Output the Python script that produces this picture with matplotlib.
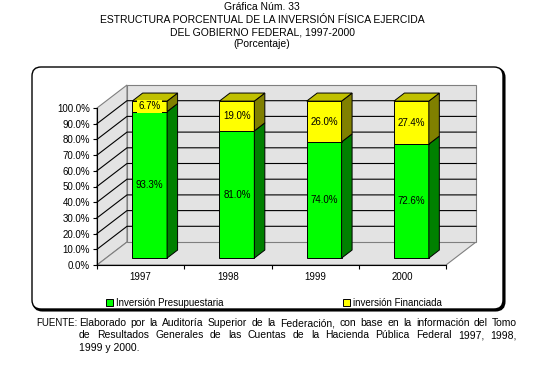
import numpy as np
import matplotlib
matplotlib.use("Agg")
import matplotlib.pyplot as plt
from matplotlib.patches import Polygon, FancyBboxPatch, Patch

plt.rcParams['font.family'] = ['Liberation Sans', 'DejaVu Sans']

# datos
years = ["1997", "1998", "1999", "2000"]
presupuestaria = [93.3, 81.0, 74.0, 72.6]
financiada = [6.7, 19.0, 26.0, 27.4]
yticks = np.arange(0, 101, 10)

title_lines = ["Gráfica Núm. 33",
               "ESTRUCTURA PORCENTUAL DE LA INVERSIÓN FÍSICA EJERCIDA",
               "DEL GOBIERNO FEDERAL, 1997-2000",
               "(Porcentaje)"]
fuente = ["Elaborado por la Auditoría Superior de la Federación, con base en la información del Tomo",
          "de Resultados Generales de las Cuentas de la Hacienda Pública Federal 1997, 1998,",
          "1999 y 2000."]

W, H = 539, 382
fig = plt.figure(figsize=(W / 100, H / 100), dpi=100)

# capa de fondo en pixeles (marco, titulos, fuente)
bg = fig.add_axes([0, 0, 1, 1])
bg.set_xlim(0, W)
bg.set_ylim(H, 0)
bg.axis("off")

shadow = FancyBboxPatch((33.5, 68.5), 471, 242, boxstyle="round,pad=0,rounding_size=9",
                        fc="black", ec="black", lw=1.5)
box = FancyBboxPatch((32, 67), 471, 242, boxstyle="round,pad=0,rounding_size=9",
                     fc="white", ec="black", lw=1)
bg.add_patch(shadow)
bg.add_patch(box)

for i, t in enumerate(title_lines):
    bg.text(262, 7.5 + i * 12.3, t, ha="center", va="center", fontsize=7.5)

# grafica con perspectiva oblicua
ax = fig.add_axes([97 / W, 1 - 265 / H, 349 / W, 157 / H])
ax.set_xlim(0, 4)
ax.set_ylim(0, 100)
ax.patch.set_alpha(0)

DX, DY = 0.344, 14.65  # desplazamiento de profundidad (datos)
d0, d1 = 0.30, 0.65     # profundidad de las barras
wall = "#e3e3e3"
edge = "#7f7f7f"


def pt(x, y, d):
    return (x + d * DX, y + d * DY)


def poly(pts, fc, ec="black", lw=0.7, z=1):
    ax.add_patch(Polygon(pts, closed=True, fc=fc, ec=ec, lw=lw, zorder=z, clip_on=False))


# paredes
poly([pt(0, 0, 0), pt(0, 100, 0), pt(0, 100, 1), pt(0, 0, 1)], wall, edge, 0.8, 0)
poly([pt(0, 0, 0), pt(4, 0, 0), pt(4, 0, 1), pt(0, 0, 1)], wall, edge, 0.8, 0)
poly([pt(0, 0, 1), pt(4, 0, 1), pt(4, 100, 1), pt(0, 100, 1)], wall, edge, 0.8, 0)
for v in yticks[1:-1]:
    a, b, c = pt(0, v, 0), pt(0, v, 1), pt(4, v, 1)
    ax.plot([a[0], b[0], c[0]], [a[1], b[1], c[1]], color="black", lw=0.8,
            zorder=0.5, clip_on=False)

# barras
bw = 0.4
for i in range(len(years)):
    x0 = i + 0.5 - bw / 2
    x1 = x0 + bw
    g = presupuestaria[i]
    top = g + financiada[i]
    poly([pt(x0, 0, d0), pt(x1, 0, d0), pt(x1, g, d0), pt(x0, g, d0)], "#00ff00", z=2)
    poly([pt(x1, 0, d0), pt(x1, 0, d1), pt(x1, g, d1), pt(x1, g, d0)], "#008000", z=2)
    poly([pt(x0, g, d0), pt(x1, g, d0), pt(x1, top, d0), pt(x0, top, d0)], "#ffff00", z=2)
    poly([pt(x1, g, d0), pt(x1, g, d1), pt(x1, top, d1), pt(x1, top, d0)], "#808000", z=2)
    poly([pt(x0, top, d0), pt(x1, top, d0), pt(x1, top, d1), pt(x0, top, d1)], "#c0c000", z=2)
    cx, cy = pt(i + 0.5, g / 2, d0)
    ax.text(cx, cy, f"{g:.1f}%", ha="center", va="center", fontsize=7, zorder=3)
    cx, cy = pt(i + 0.5, g + financiada[i] / 2, d0)
    ax.text(cx, cy, f"{financiada[i]:.1f}%", ha="center", va="center", fontsize=7, zorder=3,
            bbox=dict(boxstyle="square,pad=0.15", fc="#ffff00", ec="none"))

# ejes
for s in ["top", "right"]:
    ax.spines[s].set_visible(False)
ax.spines["left"].set_linewidth(0.8)
ax.spines["bottom"].set_linewidth(0.8)
ax.set_yticks(yticks)
ax.set_yticklabels([f"{v:.1f}%" for v in yticks], fontsize=7)
ax.set_xticks(range(5))
ax.set_xticklabels([])
ax.set_xticks(np.arange(len(years)) + 0.5, minor=True)
ax.set_xticklabels(years, minor=True, fontsize=7)
ax.tick_params(axis="x", which="minor", length=0, pad=5)
ax.tick_params(axis="both", which="major", length=3, width=0.8, pad=2)

fig.legend(handles=[Patch(fc="#00ff00", ec="black", lw=0.7, label="Inversión Presupuestaria"),
                    Patch(fc="#ffff00", ec="black", lw=0.7, label="inversión Financiada")],
           ncol=2, loc="center", bbox_to_anchor=(0.508, 1 - 303 / H), frameon=False,
           fontsize=7, handlelength=0.7, handleheight=0.7, handletextpad=0.3,
           columnspacing=12.3)

# fuente, texto justificado
bg.text(36, 323, "FUENTE:", ha="left", va="center", fontsize=7)
fig.canvas.draw()
r = fig.canvas.get_renderer()
x_left, x_right = 79, 517
for k, line in enumerate(fuente):
    y = 323 + k * 12.5
    words = line.split(" ")
    if k == len(fuente) - 1:
        bg.text(x_left, y, line, ha="left", va="center", fontsize=7.5)
        continue
    arts = [bg.text(0, y, w_, ha="left", va="center", fontsize=7.5) for w_ in words]
    widths = [a.get_window_extent(r).width for a in arts]
    gap = (x_right - x_left - sum(widths)) / (len(words) - 1)
    x = x_left
    for a, wpx in zip(arts, widths):
        a.set_x(x)
        x += wpx + gap

fig.savefig("out.png", dpi=100)
